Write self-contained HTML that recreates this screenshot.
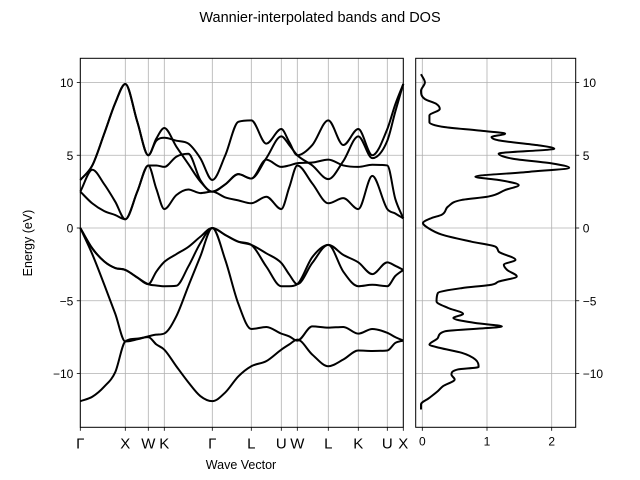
<!DOCTYPE html>
<html><head><meta charset="utf-8"><style>
body{margin:0;background:#fff}
svg{display:block;font-family:"Liberation Sans","DejaVu Sans",sans-serif}
</style></head><body>
<svg id="fig" width="640" height="480" viewBox="0 0 640 480">
<text x="320" y="22" text-anchor="middle" font-size="14.5">Wannier-interpolated bands and DOS</text>
<g id="grid"></g>
<g id="bands"></g>
<g id="dos"></g>
<g id="axes"></g>
<text x="241" y="469" text-anchor="middle" font-size="12.5">Wave Vector</text>
<text transform="translate(32,243) rotate(-90)" text-anchor="middle" font-size="12.5">Energy (eV)</text>
</svg>
<script>
const kLabels=["Γ","X","W","K","Γ","L","U","W","L","K","U","X"];
const kTicks=[0,45,68,84,132,171,201,217,248,278,307,323];
const kGrid=[0,12,24,35,45,57,68,76,84,96,108,120,132,145,158,171,186,201,209,217,232,248,263,278,292,307,315,323];
const yTicks=[10,5,0,-5,-10];
const dosTicks=[0,1,2];
const bandA=[-11.9,-11.6,-10.9,-9.9,-7.8,-7.6,-7.5,-8.0,-8.36,-9.5,-10.6,-11.55,-11.9,-11.3,-10.2,-9.5,-9.15,-8.36,-8.0,-7.67,-8.7,-9.5,-9.04,-8.42,-8.45,-8.42,-7.9,-7.74];
const bandB=[0,-1.8,-3.9,-5.9,-7.8,-7.65,-7.45,-7.33,-7.25,-6.07,-4.0,-1.96,0,-2.2,-5.2,-6.94,-6.8,-7.26,-7.45,-7.74,-6.76,-6.85,-6.8,-7.26,-6.94,-7.2,-7.5,-7.74];
const bandC=[0,-1.4,-2.3,-2.75,-2.88,-3.4,-3.86,-3.0,-2.33,-1.8,-1.3,-0.6,0,-0.48,-0.94,-1.16,-1.74,-2.4,-3.2,-3.86,-2.4,-1.16,-1.85,-2.36,-3.17,-2.36,-2.6,-2.88];
const bandD=[0,-1.4,-2.3,-2.75,-2.88,-3.4,-3.86,-3.95,-4.0,-3.97,-2.65,-1.05,0,-0.48,-0.94,-1.16,-2.65,-4.0,-4.0,-3.86,-2.0,-1.16,-3.0,-4.0,-3.9,-4.0,-3.3,-2.88];
const bandE=[2.5,1.69,1.16,0.89,0.6,2.5,4.3,2.7,1.3,2.26,2.65,2.4,2.5,2.1,1.9,1.7,2.15,1.3,2.8,4.3,3.06,1.7,2.05,1.3,3.58,1.3,1.0,0.66];
const bandF=[2.5,4.0,3.0,1.8,0.6,2.5,4.3,4.3,4.2,4.9,5.1,3.3,2.5,3.0,3.7,3.4,4.7,4.2,4.3,4.45,4.5,4.7,4.3,4.2,4.35,4.3,2.0,0.66];
const bandG=[3.3,4.3,6.5,8.6,9.9,7.3,5.0,6.14,6.87,5.6,4.4,3.2,2.5,3.0,3.7,3.4,4.8,6.3,5.7,5.0,4.3,3.36,4.6,6.3,4.8,6.0,8.0,9.9];
const bandH=[3.3,4.3,6.5,8.6,9.9,7.3,5.0,6.0,6.2,6.0,5.8,4.8,3.3,5.0,7.3,7.4,5.8,6.8,5.9,5.0,5.7,7.4,5.7,6.8,5.0,6.8,8.5,9.9];
const dosEnergy=[10.57,10,9.43,8.86,8.52,8.18,7.73,7.27,6.93,6.7,6.48,6.25,6.02,5.68,5.45,5.11,4.77,4.43,4.14,3.86,3.52,3.3,2.95,2.61,2.16,1.93,1.48,0.91,0.68,0.34,0,-0.45,-0.94,-1.28,-1.62,-2.19,-2.53,-2.88,-3.33,-3.68,-3.9,-4.13,-4.47,-5.04,-5.5,-5.9,-6.19,-6.53,-6.76,-7.1,-7.56,-8.01,-8.24,-8.58,-9.04,-9.56,-9.72,-10.07,-10.41,-10.87,-11.21,-11.67,-12.12,-12.47];
const dosValue=[-0.02,0.04,-0.02,0.04,0.22,0.27,0.11,0.11,0.35,0.87,1.28,1.07,1.18,1.8,2.04,1.18,1.39,2.01,2.27,1.65,0.82,1.18,1.49,1.28,1.02,0.61,0.4,0.3,0.14,0.01,0.09,0.3,0.76,1.13,1.18,1.44,1.26,1.31,1.46,1.18,1.07,0.61,0.24,0.22,0.4,0.63,0.48,0.82,1.23,0.35,0.24,0.11,0.27,0.61,0.82,0.87,0.55,0.45,0.5,0.32,0.24,0.11,-0.02,-0.02];

const NS="http://www.w3.org/2000/svg";
const L={x0:80.3,x1:403.3,y0:58.3,y1:427.3}, R={x0:415.7,x1:575.7};
const E0=228, EU=14.55;
const yS=e=>E0-e*EU;
const kMax=kTicks[kTicks.length-1];
const xS=k=>L.x0+(k/kMax)*(L.x1-L.x0);
const dS=d=>422.3+d*64.7;
function mk(tag,attrs,parent){const el=document.createElementNS(NS,tag);for(const a in attrs)el.setAttribute(a,attrs[a]);parent.appendChild(el);return el;}
const grid=document.getElementById('grid'),bandsG=document.getElementById('bands'),dosG=document.getElementById('dos'),axes=document.getElementById('axes');
const gc='#b0b0b0';
// grid lines
kTicks.forEach((k,i)=>{const l=mk('line',{x1:xS(k),x2:xS(k),y1:L.y0,y2:L.y1,stroke:gc,'stroke-width':0.8},grid);

});
yTicks.forEach(e=>{const l=mk('line',{x1:L.x0,x2:L.x1,y1:yS(e),y2:yS(e),stroke:gc,'stroke-width':0.8},grid);


const l2=mk('line',{x1:R.x0,x2:R.x1,y1:yS(e),y2:yS(e),stroke:gc,'stroke-width':0.8},grid);

});
dosTicks.forEach(d=>{const l=mk('line',{x1:dS(d),x2:dS(d),y1:L.y0,y2:L.y1,stroke:gc,'stroke-width':0.8},grid);

});
// monotone cubic
function monoPath(xs,ys){const n=xs.length,d=[],m=[];
for(let i=0;i<n-1;i++)d.push((ys[i+1]-ys[i])/(xs[i+1]-xs[i]));
for(let i=0;i<n;i++){if(i==0)m.push(d[0]);else if(i==n-1)m.push(d[n-2]);else m.push(d[i-1]*d[i]<=0?0:(d[i-1]+d[i])/2);}
for(let i=0;i<n-1;i++){if(d[i]==0){m[i]=0;m[i+1]=0;continue;}const a=m[i]/d[i],b=m[i+1]/d[i],s=a*a+b*b;if(s>9){const t=3/Math.sqrt(s);m[i]=t*a*d[i];m[i+1]=t*b*d[i];}}
let p=`M${xs[0].toFixed(2)},${ys[0].toFixed(2)}`;
for(let i=0;i<n-1;i++){const h=xs[i+1]-xs[i];p+=`C${(xs[i]+h/3).toFixed(2)},${(ys[i]+m[i]*h/3).toFixed(2)} ${(xs[i+1]-h/3).toFixed(2)},${(ys[i+1]-m[i+1]*h/3).toFixed(2)} ${xs[i+1].toFixed(2)},${ys[i+1].toFixed(2)}`;}
return p;}
const bandList=[bandA,bandB,bandC,bandD,bandE,bandF,bandG,bandH];
bandList.forEach((b,i)=>{const p=mk('path',{d:monoPath(kGrid.map(xS),b.map(yS)),fill:'none',stroke:'#000','stroke-width':2,'stroke-linejoin':'round'},bandsG);

});
// DOS: monotone in energy direction (parametrize by y)
(function(){const ys=dosEnergy.map(yS),xs=dosValue.map(dS);
const p0=monoPath(ys,xs).replace(/(-?[\d.]+),(-?[\d.]+)/g,(m,a,b)=>b+','+a);
const p=mk('path',{d:p0,fill:'none',stroke:'#000','stroke-width':2,'stroke-linejoin':'round'},dosG);

})();
// frames
const f1=mk('rect',{x:L.x0,y:L.y0,width:L.x1-L.x0,height:L.y1-L.y0,fill:'none',stroke:'#000','stroke-width':1},axes);


const f2=mk('rect',{x:R.x0,y:L.y0,width:R.x1-R.x0,height:L.y1-L.y0,fill:'none',stroke:'#000','stroke-width':1},axes);


// ticks & labels
yTicks.forEach(e=>{mk('line',{x1:L.x0-3.5,x2:L.x0,y1:yS(e),y2:yS(e),stroke:'#000','stroke-width':0.8},axes);
const t=mk('text',{x:L.x0-7,y:yS(e)+4.5,'text-anchor':'end','font-size':12},axes);t.textContent=e<0?'\u2212'+(-e):String(e);


mk('line',{x1:R.x1,x2:R.x1+3.5,y1:yS(e),y2:yS(e),stroke:'#000','stroke-width':0.8},axes);
const t2=mk('text',{x:R.x1+7,y:yS(e)+4.5,'text-anchor':'start','font-size':12},axes);t2.textContent=e<0?'\u2212'+(-e):String(e);

});
kTicks.forEach((k,i)=>{mk('line',{x1:xS(k),x2:xS(k),y1:L.y1,y2:L.y1+3.5,stroke:'#000','stroke-width':0.8},axes);
const t=mk('text',{x:xS(k),y:L.y1+21,'text-anchor':'middle','font-size':15},axes);t.textContent=kLabels[i];

});
dosTicks.forEach(d=>{mk('line',{x1:dS(d),x2:dS(d),y1:L.y1,y2:L.y1+3.5,stroke:'#000','stroke-width':0.8},axes);
const t=mk('text',{x:dS(d),y:L.y1+18,'text-anchor':'middle','font-size':12},axes);t.textContent=String(d);

});
</script>
</body></html>
